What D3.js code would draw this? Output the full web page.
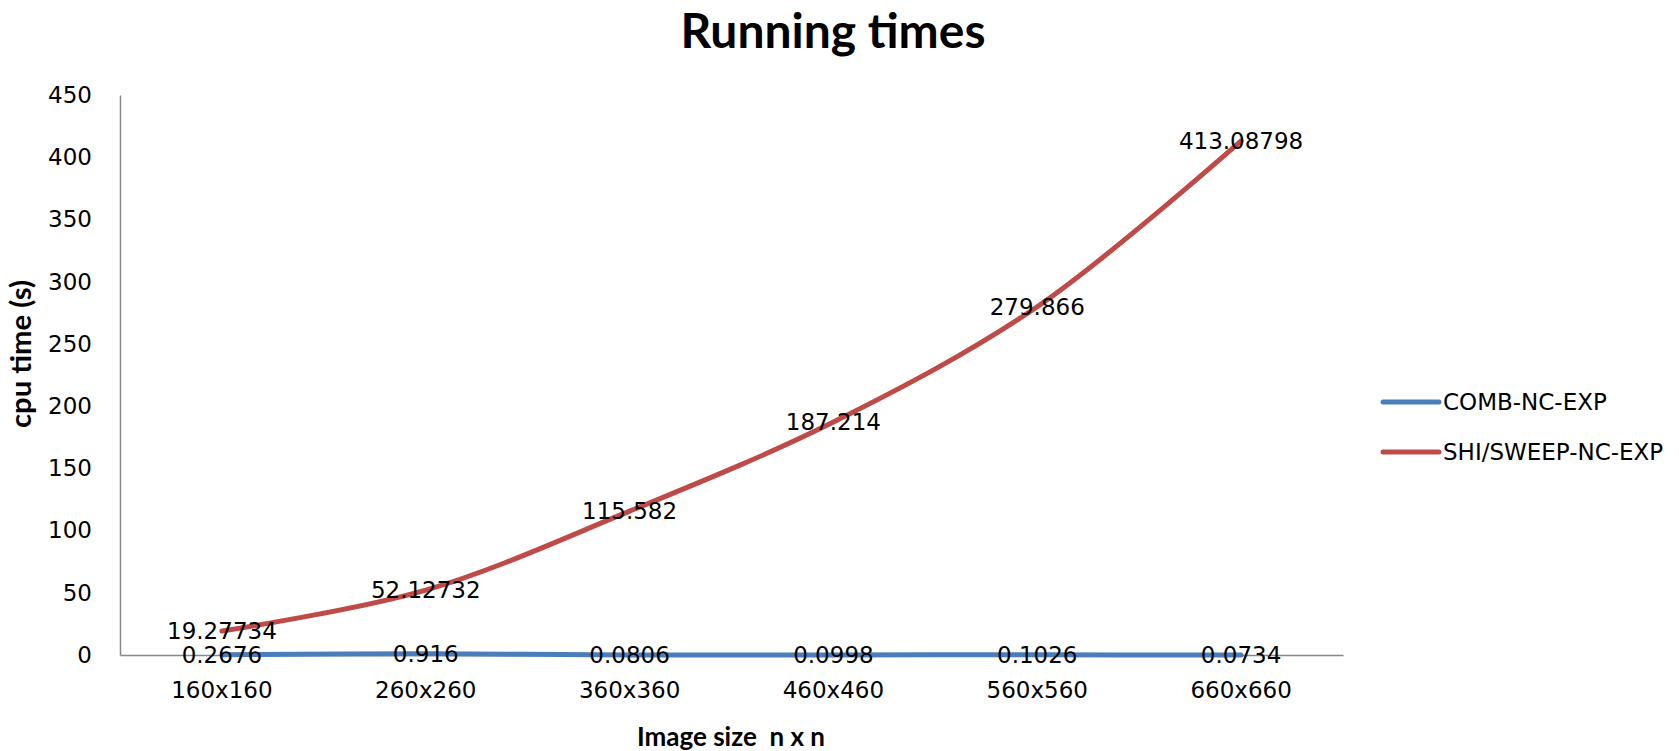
<!DOCTYPE html>
<html>
<head>
<meta charset="utf-8">
<script src="https://cdn.jsdelivr.net/npm/d3@7"></script>
<style>
  html, body { margin: 0; padding: 0; background: #fff; }
  svg { display: block; }
</style>
</head>
<body>
<svg id="chart" width="1679" height="751"></svg>
<script>
// Image sizes tested and measured cpu times (seconds)
const categories = ["160x160", "260x260", "360x360", "460x460", "560x560", "660x660"];
const combValues = [0.2676, 0.916, 0.0806, 0.0998, 0.1026, 0.0734];
const sweepValues = [19.27734, 52.12732, 115.582, 187.214, 279.866, 413.08798];
const combLabels = ["0.2676", "0.916", "0.0806", "0.0998", "0.1026", "0.0734"];
const sweepLabels = ["19.27734", "52.12732", "115.582", "187.214", "279.866", "413.08798"];
const seriesNames = ["COMB-NC-EXP", "SHI/SWEEP-NC-EXP"];
const yTicks = [0, 50, 100, 150, 200, 250, 300, 350, 400, 450];

const series = [
  { name: seriesNames[0], values: combValues, labels: combLabels, color: "#4A7EBB" },
  { name: seriesNames[1], values: sweepValues, labels: sweepLabels, color: "#BE4B48" }
];

const svg = d3.select("#chart");
const plot = { left: 120, right: 1343, top: 95, bottom: 655 };

const x = d3.scaleBand().domain(categories).range([plot.left, plot.right]);
const y = d3.scaleLinear().domain([0, 450]).range([plot.bottom, plot.top]);

const labelFont = "'DejaVu Sans', Verdana, sans-serif";
const titleFont = "Lato, 'Open Sans', sans-serif";

// Fit a text element to a given width by adjusting its font size
function fitWidth(sel, target) {
  const len = sel.node().getComputedTextLength();
  const fs = parseFloat(sel.attr("font-size"));
  sel.attr("font-size", (fs * target / len).toFixed(2));
}

// Title
const title = svg.append("text")
  .attr("x", 833).attr("y", 48)
  .attr("text-anchor", "middle")
  .attr("font-family", titleFont).attr("font-weight", 700)
  .attr("font-size", 40).attr("fill", "#000")
  .text("Running times");
fitWidth(title, 305);

// Y axis (line and labels, no tick marks)
const yAxis = d3.axisLeft(y).tickValues(yTicks).tickSize(0).tickPadding(28);
const gy = svg.append("g").attr("transform", `translate(${plot.left},0)`).call(yAxis);
gy.select(".domain").attr("stroke", "#888").attr("stroke-width", 1.5);
gy.selectAll("text")
  .attr("font-family", labelFont).attr("font-size", 23).attr("fill", "#000");

// X axis along zero
const xAxis = d3.axisBottom(x).tickSize(0).tickPadding(27);
const gx = svg.append("g").attr("transform", `translate(0,${y(0)})`).call(xAxis);
gx.select(".domain").attr("stroke", "#888").attr("stroke-width", 1.5);
gx.selectAll("text")
  .attr("font-family", labelFont).attr("font-size", 23).attr("fill", "#000");

// Axis titles
const xTitle = svg.append("text")
  .attr("x", 731).attr("y", 746)
  .attr("text-anchor", "middle")
  .attr("font-family", titleFont).attr("font-weight", 700)
  .attr("font-size", 24).attr("fill", "#000")
  .attr("xml:space", "preserve")
  .text("Image size  n x n");
fitWidth(xTitle, 188);

const yTitle = svg.append("text")
  .attr("transform", "translate(31,354) rotate(-90)")
  .attr("text-anchor", "middle")
  .attr("font-family", titleFont).attr("font-weight", 700)
  .attr("font-size", 22).attr("fill", "#000")
  .text("cpu time (s)");
fitWidth(yTitle, 148);

// Smoothed series lines
const line = d3.line()
  .x((d, i) => x(categories[i]) + x.bandwidth() / 2)
  .y(d => y(d))
  .curve(d3.curveCatmullRom.alpha(0.5));

svg.append("g").selectAll("path")
  .data(series)
  .join("path")
  .attr("d", s => line(s.values))
  .attr("fill", "none")
  .attr("stroke", s => s.color)
  .attr("stroke-width", 5)
  .attr("stroke-linecap", "round")
  .attr("stroke-linejoin", "round");

// Data labels centred on each point
series.forEach(s => {
  svg.append("g").selectAll("text")
    .data(s.values)
    .join("text")
    .attr("x", (d, i) => x(categories[i]) + x.bandwidth() / 2)
    .attr("y", d => y(d))
    .attr("dy", "0.36em")
    .attr("text-anchor", "middle")
    .attr("font-family", labelFont).attr("font-size", 23).attr("fill", "#000")
    .text((d, i) => s.labels[i]);
});

// Legend
const legend = svg.append("g");
series.forEach((s, i) => {
  const ly = 402 + i * 50;
  legend.append("line")
    .attr("x1", 1383).attr("x2", 1439)
    .attr("y1", ly).attr("y2", ly)
    .attr("stroke", s.color).attr("stroke-width", 5)
    .attr("stroke-linecap", "round");
  legend.append("text")
    .attr("x", 1443).attr("y", ly)
    .attr("dy", "0.36em")
    .attr("font-family", labelFont).attr("font-size", 23).attr("fill", "#000")
    .text(s.name);
});
</script>
</body>
</html>
